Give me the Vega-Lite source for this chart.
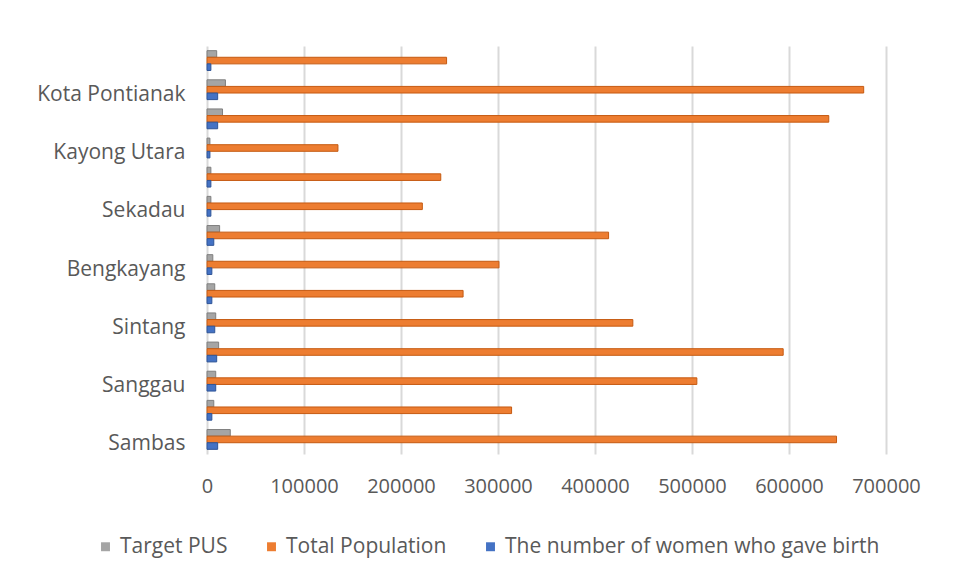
{
  "$schema": "https://vega.github.io/schema/vega-lite/v6.json",
  "width": 679,
  "height": 408,
  "autosize": {"type": "none"},
  "padding": {"left": 207, "top": 46, "right": 74, "bottom": 124},
  "background": "white",
  "config": {
    "font": "Open Sans",
    "view": {"stroke": null}
  },
  "data": {
    "values": [
      {"region": "Sambas", "series": "Target PUS", "value": 24000},
      {"region": "Sambas", "series": "Total Population", "value": 649000},
      {"region": "Sambas", "series": "The number of women who gave birth", "value": 11000},
      {"region": "Mempawah", "series": "Target PUS", "value": 7000},
      {"region": "Mempawah", "series": "Total Population", "value": 314000},
      {"region": "Mempawah", "series": "The number of women who gave birth", "value": 5000},
      {"region": "Sanggau", "series": "Target PUS", "value": 9000},
      {"region": "Sanggau", "series": "Total Population", "value": 505000},
      {"region": "Sanggau", "series": "The number of women who gave birth", "value": 9000},
      {"region": "Ketapang", "series": "Target PUS", "value": 12000},
      {"region": "Ketapang", "series": "Total Population", "value": 594000},
      {"region": "Ketapang", "series": "The number of women who gave birth", "value": 10000},
      {"region": "Sintang", "series": "Target PUS", "value": 9000},
      {"region": "Sintang", "series": "Total Population", "value": 439000},
      {"region": "Sintang", "series": "The number of women who gave birth", "value": 8000},
      {"region": "Kapuas Hulu", "series": "Target PUS", "value": 8000},
      {"region": "Kapuas Hulu", "series": "Total Population", "value": 264000},
      {"region": "Kapuas Hulu", "series": "The number of women who gave birth", "value": 5000},
      {"region": "Bengkayang", "series": "Target PUS", "value": 6000},
      {"region": "Bengkayang", "series": "Total Population", "value": 301000},
      {"region": "Bengkayang", "series": "The number of women who gave birth", "value": 5000},
      {"region": "Landak", "series": "Target PUS", "value": 13000},
      {"region": "Landak", "series": "Total Population", "value": 414000},
      {"region": "Landak", "series": "The number of women who gave birth", "value": 7000},
      {"region": "Sekadau", "series": "Target PUS", "value": 4000},
      {"region": "Sekadau", "series": "Total Population", "value": 222000},
      {"region": "Sekadau", "series": "The number of women who gave birth", "value": 4000},
      {"region": "Melawi", "series": "Target PUS", "value": 4000},
      {"region": "Melawi", "series": "Total Population", "value": 241000},
      {"region": "Melawi", "series": "The number of women who gave birth", "value": 4000},
      {"region": "Kayong Utara", "series": "Target PUS", "value": 3000},
      {"region": "Kayong Utara", "series": "Total Population", "value": 135000},
      {"region": "Kayong Utara", "series": "The number of women who gave birth", "value": 3000},
      {"region": "Kubu Raya", "series": "Target PUS", "value": 16000},
      {"region": "Kubu Raya", "series": "Total Population", "value": 641000},
      {"region": "Kubu Raya", "series": "The number of women who gave birth", "value": 11000},
      {"region": "Kota Pontianak", "series": "Target PUS", "value": 19000},
      {"region": "Kota Pontianak", "series": "Total Population", "value": 677000},
      {"region": "Kota Pontianak", "series": "The number of women who gave birth", "value": 11000},
      {"region": "Kota Singkawang", "series": "Target PUS", "value": 10000},
      {"region": "Kota Singkawang", "series": "Total Population", "value": 247000},
      {"region": "Kota Singkawang", "series": "The number of women who gave birth", "value": 4000}
    ]
  },
  "mark": {"type": "bar", "strokeWidth": 1},
  "encoding": {
    "y": {
      "field": "region",
      "type": "nominal",
      "sort": ["Kota Singkawang", "Kota Pontianak", "Kubu Raya", "Kayong Utara", "Melawi", "Sekadau", "Landak", "Bengkayang", "Kapuas Hulu", "Sintang", "Ketapang", "Sanggau", "Mempawah", "Sambas"],
      "scale": {"paddingInner": 0.32, "paddingOuter": 0.16},
      "axis": {
        "title": null,
        "ticks": false,
        "domain": false,
        "labelFontSize": 21,
        "labelColor": "#595959",
        "labelPadding": 22,
        "labelOffset": 5,
        "labelOverlap": false,
        "labelExpr": "indexof(['Kota Singkawang','Kubu Raya','Melawi','Landak','Kapuas Hulu','Ketapang','Mempawah'], datum.value) >= 0 ? '' : datum.label"
      }
    },
    "yOffset": {
      "field": "series",
      "type": "nominal",
      "sort": ["Target PUS", "Total Population", "The number of women who gave birth"],
      "scale": {"paddingInner": 0, "paddingOuter": 0}
    },
    "x": {
      "field": "value",
      "type": "quantitative",
      "scale": {"domain": [0, 700000], "nice": false},
      "axis": {
        "title": null,
        "values": [0, 100000, 200000, 300000, 400000, 500000, 600000, 700000],
        "format": "d",
        "ticks": false,
        "domain": false,
        "grid": true,
        "gridColor": "#D9D9D9",
        "gridWidth": 2,
        "labelFontSize": 20,
        "labelColor": "#595959",
        "labelPadding": 22,
        "labelFlush": false
      }
    },
    "color": {
      "field": "series",
      "type": "nominal",
      "sort": ["Target PUS", "Total Population", "The number of women who gave birth"],
      "scale": {
        "domain": ["Target PUS", "Total Population", "The number of women who gave birth"],
        "range": ["#A5A5A5", "#ED7D31", "#4472C4"]
      },
      "legend": {
        "title": null,
        "orient": "none",
        "direction": "horizontal",
        "legendX": -112,
        "legendY": 490,
        "symbolType": "square",
        "symbolSize": 80,
        "symbolStrokeWidth": 0,
        "labelFontSize": 21,
        "labelColor": "#595959",
        "labelOffset": 4,
        "columnPadding": 33,
        "labelLimit": 450
      }
    },
    "stroke": {
      "field": "series",
      "type": "nominal",
      "scale": {
        "domain": ["Target PUS", "Total Population", "The number of women who gave birth"],
        "range": ["#7F7F7F", "#C55A11", "#2F5597"]
      },
      "legend": null
    }
  }
}
